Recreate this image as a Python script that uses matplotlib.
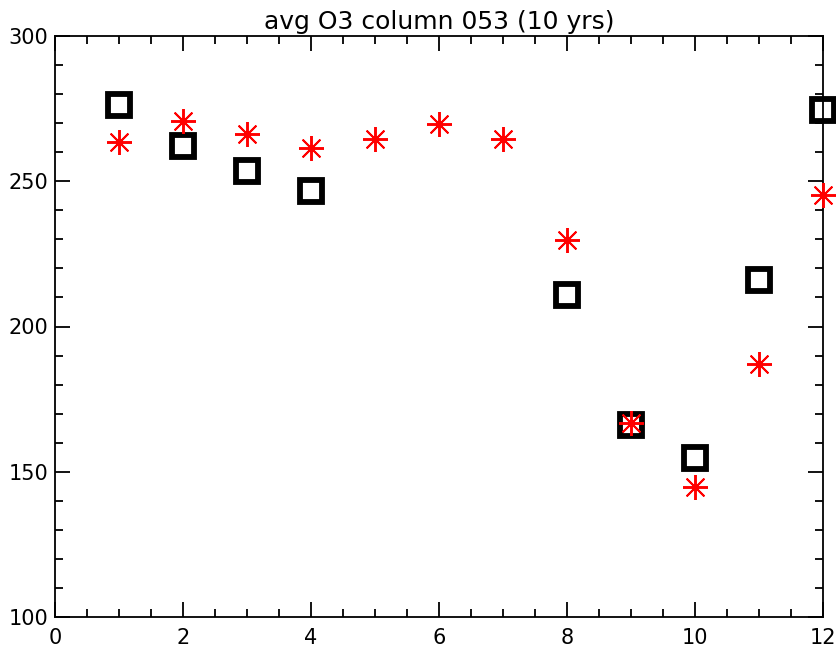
import numpy as np
import matplotlib
matplotlib.use("Agg")
import matplotlib.pyplot as plt
from matplotlib.ticker import MultipleLocator

# monthly values, 10-year average
months = [1, 2, 3, 4, 5, 6, 7, 8, 9, 10, 11, 12]
star_vals = [263.4, 270.6, 266.1, 261.3, 264.4, 269.6, 264.4, 229.9, 166.7, 144.9, 187.0, 245.1]
box_months = [1, 2, 3, 4, 8, 9, 10, 11, 12]
box_vals = [276.2, 262.3, 253.7, 246.5, 210.9, 166.0, 154.9, 216.1, 274.4]

fig = plt.figure(figsize=(8.36, 6.53), dpi=100)
ax = fig.add_axes([55/836, 36/653, 768/836, 581/653])

ax.plot(months, star_vals, linestyle='none', marker=(8, 2, 0), markersize=18,
        markeredgecolor='red', markeredgewidth=1.4, clip_on=False, zorder=3)
ax.plot(box_months, box_vals, linestyle='none', marker='s', markersize=16.5,
        markerfacecolor='none', markeredgecolor='black', markeredgewidth=4.2,
        clip_on=False, zorder=2)

ax.set_xlim(0, 12)
ax.set_ylim(100, 300)
ax.xaxis.set_major_locator(MultipleLocator(2))
ax.xaxis.set_minor_locator(MultipleLocator(0.5))
ax.yaxis.set_major_locator(MultipleLocator(50))
ax.yaxis.set_minor_locator(MultipleLocator(10))
ax.tick_params(which='both', direction='in', top=True, right=True, width=1.3)
ax.tick_params(which='major', length=11, labelsize=15)
ax.tick_params(axis='x', pad=8)
ax.tick_params(axis='y', pad=5)
ax.tick_params(which='minor', length=5.5)
for s in ax.spines.values():
    s.set_linewidth(1.3)

ax.set_title("avg O3 column 053 (10 yrs)", fontsize=18, pad=5)

plt.savefig("out.png", dpi=100)
